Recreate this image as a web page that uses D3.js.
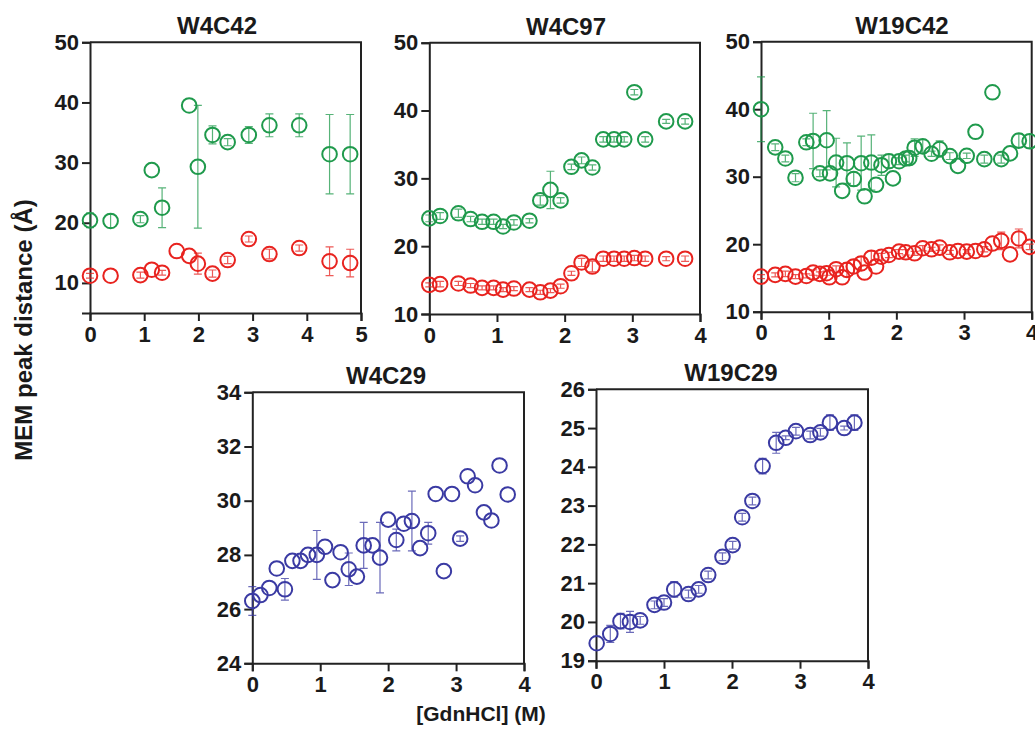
<!DOCTYPE html>
<html>
<head>
<meta charset="utf-8">
<script src="https://cdn.jsdelivr.net/npm/d3@7"></script>
<style>
  body { margin: 0; background: #fff; }
  svg text { font-family: "Liberation Sans", Arial, sans-serif; font-weight: bold; fill: #1a1a1a; }
</style>
</head>
<body>
<svg id="chart" width="1035" height="739"></svg>
<script>
// ---------- DATA ----------
// W4C42
const w4c42GreenX = [0, 0.38, 0.93, 1.14, 1.33, 1.83, 1.99, 2.26, 2.54, 2.93, 3.31, 3.86, 4.42, 4.80];
const w4c42GreenY = [20.4, 20.3, 20.6, 28.75, 22.5, 39.5, 29.3, 34.6, 33.4, 34.6, 36.2, 36.2, 31.4, 31.4];
const w4c42GreenErr = [1.2, 1.1, 0.6, 0, 3.3, 0, 10.2, 1.5, 0.6, 1.4, 1.9, 1.9, 6.6, 6.6];
const w4c42RedX = [0, 0.38, 0.93, 1.14, 1.33, 1.60, 1.83, 1.99, 2.26, 2.54, 2.93, 3.31, 3.86, 4.42, 4.80];
const w4c42RedY = [11.2, 11.2, 11.3, 12.2, 11.7, 15.3, 14.5, 13.2, 11.55, 13.8, 17.3, 14.8, 15.8, 13.6, 13.3];
const w4c42RedErr = [0.4, 0, 0.5, 0, 0.4, 0, 0, 1.75, 0.6, 0.6, 0.5, 0.8, 0.5, 2.4, 2.3];

// W4C97
const w4c97X = [0, 0.16, 0.43, 0.61, 0.78, 0.95, 1.09, 1.25, 1.48, 1.64, 1.79, 1.94, 2.10, 2.25, 2.41, 2.57, 2.73, 2.88, 3.03, 3.19, 3.50, 3.78];
const w4c97GreenY = [24.1, 24.45, 24.85, 24.0, 23.6, 23.6, 22.9, 23.5, 23.75, 26.75, 28.3, 26.75, 31.7, 32.65, 31.6, 35.75, 35.75, 35.75, 42.7, 35.75, 38.4, 38.4];
const w4c97GreenErr = [0.5, 0.5, 0.6, 0.4, 0.4, 0.4, 0.3, 0.4, 0.3, 0.7, 2.75, 0.4, 0.4, 0.5, 0.4, 0.4, 0.4, 0.4, 0.4, 0.4, 0.3, 0.4];
const w4c97RedY = [14.3, 14.4, 14.5, 14.2, 13.85, 13.85, 13.6, 13.75, 13.6, 13.2, 13.45, 14.1, 16.0, 17.6, 17.0, 18.15, 18.15, 18.15, 18.25, 18.15, 18.15, 18.15];
const w4c97RedErr = [0.3, 0.4, 0.3, 0.3, 0.3, 0.3, 0.3, 0.3, 0.3, 0.3, 0.3, 0.3, 0.3, 0.6, 0.8, 0.4, 0.4, 0.4, 0.4, 0.4, 0.3, 0.4];

// W19C42
const w19c42GreenX = [0, 0.21, 0.36, 0.51, 0.67, 0.77, 0.87, 0.97, 1.02, 1.11, 1.20, 1.27, 1.37, 1.48, 1.53, 1.63, 1.70, 1.78, 1.89, 1.95, 2.04, 2.14, 2.19, 2.27, 2.39, 2.52, 2.64, 2.79, 2.91, 3.04, 3.17, 3.30, 3.42, 3.55, 3.68, 3.81, 3.97];
const w19c42GreenY = [40.0, 34.35, 32.7, 29.85, 35.1, 35.3, 30.5, 35.4, 30.5, 32.1, 27.9, 32.0, 29.65, 32.0, 27.1, 32.1, 28.8, 31.7, 32.3, 29.75, 32.3, 32.7, 32.75, 34.3, 34.5, 33.4, 34.1, 33.05, 31.6, 33.1, 36.65, 32.6, 42.5, 32.6, 33.45, 35.35, 35.25];
const w19c42GreenErr = [4.8, 0.5, 0.5, 0.6, 0.5, 4.1, 0.5, 4.4, 0, 3.6, 0, 3.0, 1.0, 4.0, 0, 4.1, 0, 1.5, 1.0, 0, 0.5, 0.5, 1.0, 1.3, 1.0, 0.4, 1.2, 0.5, 0, 0.4, 0, 0.6, 0, 0.6, 0, 1.0, 1.0];
const w19c42RedX = [0, 0.21, 0.36, 0.51, 0.67, 0.77, 0.87, 0.97, 1.01, 1.11, 1.20, 1.27, 1.37, 1.48, 1.53, 1.63, 1.70, 1.78, 1.89, 2.04, 2.14, 2.27, 2.39, 2.52, 2.64, 2.79, 2.91, 3.04, 3.17, 3.30, 3.42, 3.55, 3.68, 3.81, 3.97];
const w19c42RedY = [15.2, 15.45, 15.6, 15.2, 15.3, 15.8, 15.6, 15.7, 15.1, 16.3, 15.1, 16.2, 16.7, 17.15, 15.8, 18.0, 16.7, 18.15, 18.4, 18.9, 18.8, 18.65, 19.4, 19.25, 19.5, 18.8, 19.0, 18.9, 19.0, 19.25, 20.1, 20.5, 18.5, 20.85, 19.6];
const w19c42RedErr = [0.3, 0.3, 0.4, 0.3, 0.3, 0.4, 0.3, 0.3, 0, 0.5, 0, 1.0, 1.0, 1.0, 0, 1.0, 0, 0.5, 0.4, 0.3, 0.4, 0.3, 0.4, 0.3, 0.4, 0.3, 0, 0.3, 0, 0.4, 0, 1.3, 0, 1.4, 0.4];

// W4C29
const w4c29X = [0, 0.12, 0.25, 0.36, 0.48, 0.59, 0.71, 0.82, 0.95, 1.07, 1.18, 1.30, 1.42, 1.54, 1.64, 1.77, 1.88, 2.00, 2.12, 2.23, 2.35, 2.47, 2.59, 2.70, 2.82, 2.94, 3.06, 3.17, 3.28, 3.41, 3.52, 3.64, 3.76];
const w4c29Y = [26.3, 26.52, 26.78, 27.5, 26.73, 27.78, 27.78, 28.0, 28.0, 28.3, 27.07, 28.1, 27.47, 27.2, 28.35, 28.35, 27.9, 29.3, 28.55, 29.15, 29.25, 28.25, 28.8, 30.25, 27.4, 30.25, 28.6, 30.9, 30.57, 29.57, 29.27, 31.3, 30.23];
const w4c29Err = [0.53, 0, 0, 0, 0.4, 0, 0, 0, 0.9, 0, 0, 0, 0.6, 0, 0.85, 0, 1.3, 0, 0.4, 0, 1.1, 0, 0.4, 0, 0, 0, 0.1, 0, 0, 0, 0, 0, 0];

// W19C29
const w19c29X = [0.01, 0.21, 0.36, 0.50, 0.65, 0.86, 1.00, 1.15, 1.36, 1.51, 1.65, 1.86, 2.01, 2.15, 2.30, 2.45, 2.65, 2.79, 2.94, 3.15, 3.30, 3.44, 3.65, 3.80];
const w19c29Y = [19.45, 19.69, 20.02, 20.0, 20.04, 20.44, 20.5, 20.84, 20.72, 20.84, 21.21, 21.68, 21.98, 22.70, 23.12, 24.02, 24.62, 24.75, 24.92, 24.82, 24.89, 25.14, 25.0, 25.14];
const w19c29Err = [0, 0.22, 0.2, 0.27, 0.1, 0.1, 0.1, 0.2, 0.1, 0.1, 0.1, 0.1, 0.1, 0.1, 0.1, 0.2, 0.27, 0.05, 0.1, 0.1, 0.1, 0.2, 0.05, 0.2];

// tick labels
const ticksX5 = [0, 1, 2, 3, 4, 5];
const ticksX4 = [0, 1, 2, 3, 4];
const ticksY50 = [10, 20, 30, 40, 50];
const ticksY34 = [24, 26, 28, 30, 32, 34];
const ticksY26 = [19, 20, 21, 22, 23, 24, 25, 26];

const titles = ["W4C42", "W4C97", "W19C42", "W4C29", "W19C29"];
const yAxisTitle = "MEM peak distance (Å)";
const xAxisTitle = "[GdnHCl] (M)";

// ---------- STYLE ----------
const GREEN = "#1f9a4c";
const RED = "#e8231f";
const BLUE = "#3a3aa3";

const zip = (xs, ys, es) => xs.map((x, i) => ({ x, y: ys[i], e: es[i] }));

const panels = [
  { title: titles[0], xd: [0, 5], yd: [5, 50], xt: ticksX5, yt: ticksY50,
    box: [90, 42.3, 361, 313], tx: 217,
    series: [{ c: GREEN, d: zip(w4c42GreenX, w4c42GreenY, w4c42GreenErr) },
             { c: RED, d: zip(w4c42RedX, w4c42RedY, w4c42RedErr) }] },
  { title: titles[1], xd: [0, 4], yd: [10, 50], xt: ticksX4, yt: ticksY50,
    box: [429.3, 42.7, 700, 314], tx: 566,
    series: [{ c: GREEN, d: zip(w4c97X, w4c97GreenY, w4c97GreenErr) },
             { c: RED, d: zip(w4c97X, w4c97RedY, w4c97RedErr) }] },
  { title: titles[2], xd: [0, 4], yd: [10, 50], xt: ticksX4, yt: ticksY50,
    box: [761, 41.7, 1031.7, 311.7], tx: 902,
    series: [{ c: GREEN, d: zip(w19c42GreenX, w19c42GreenY, w19c42GreenErr) },
             { c: RED, d: zip(w19c42RedX, w19c42RedY, w19c42RedErr) }] },
  { title: titles[3], xd: [0, 4], yd: [24, 34], xt: ticksX4, yt: ticksY34,
    box: [252.3, 392.3, 524, 663.3], tx: 386,
    series: [{ c: BLUE, d: zip(w4c29X, w4c29Y, w4c29Err) }] },
  { title: titles[4], xd: [0, 4], yd: [19, 26], xt: ticksX4, yt: ticksY26,
    box: [596, 389.3, 868, 660.7], tx: 731,
    series: [{ c: BLUE, d: zip(w19c29X, w19c29Y, w19c29Err) }] }
];

const svg = d3.select("#chart");
const AXC = "#222";

panels.forEach(p => {
  const [x0, y0, x1, y1] = p.box;
  const xs = d3.scaleLinear().domain(p.xd).range([x0, x1]);
  const ys = d3.scaleLinear().domain(p.yd).range([y1, y0]);
  const g = svg.append("g");

  // frame (top & right)
  g.append("path").attr("d", `M${x0},${y0}H${x1}V${y1}`)
    .attr("fill", "none").attr("stroke", AXC).attr("stroke-width", 2);

  const xa = g.append("g").attr("transform", `translate(0,${y1})`)
    .call(d3.axisBottom(xs).tickValues(p.xt).tickFormat(d3.format("d")).tickSize(8).tickPadding(5));
  const ya = g.append("g").attr("transform", `translate(${x0},0)`)
    .call(d3.axisLeft(ys).tickValues(p.yt).tickFormat(d3.format("d")).tickSize(8).tickPadding(3));
  [xa, ya].forEach(a => {
    a.select(".domain").attr("stroke", AXC).attr("stroke-width", 2);
    a.selectAll(".tick line").attr("stroke", AXC).attr("stroke-width", 2);
    a.selectAll(".tick text").attr("fill", "#1a1a1a").style("font-size", "22px")
      .style("font-family", "'Liberation Sans', Arial, sans-serif").style("font-weight", "bold");
  });

  g.append("text").attr("x", p.tx).attr("y", y0 - 8).attr("text-anchor", "middle")
    .style("font-size", "24px").text(p.title);

  p.series.forEach(s => {
    const eg = g.append("g").attr("stroke", s.c).attr("stroke-width", 1.2).attr("opacity", 0.75).attr("fill", "none");
    s.d.filter(d => d.e > 0).forEach(d => {
      const cx = xs(d.x), ya_ = ys(d.y + d.e), yb = ys(d.y - d.e);
      eg.append("path").attr("d", `M${cx},${ya_}V${yb}M${cx - 4},${ya_}H${cx + 4}M${cx - 4},${yb}H${cx + 4}`);
    });
    g.append("g").selectAll("circle").data(s.d).join("circle")
      .attr("cx", d => xs(d.x)).attr("cy", d => ys(d.y)).attr("r", 7.3)
      .attr("fill", "none").attr("stroke", s.c).attr("stroke-width", 2);
  });
});

svg.append("text").attr("transform", "translate(32,330) rotate(-90)")
  .attr("text-anchor", "middle").style("font-size", "24px").text(yAxisTitle);
svg.append("text").attr("x", 481).attr("y", 721).attr("text-anchor", "middle")
  .style("font-size", "21px").text(xAxisTitle);
</script>
</body>
</html>
